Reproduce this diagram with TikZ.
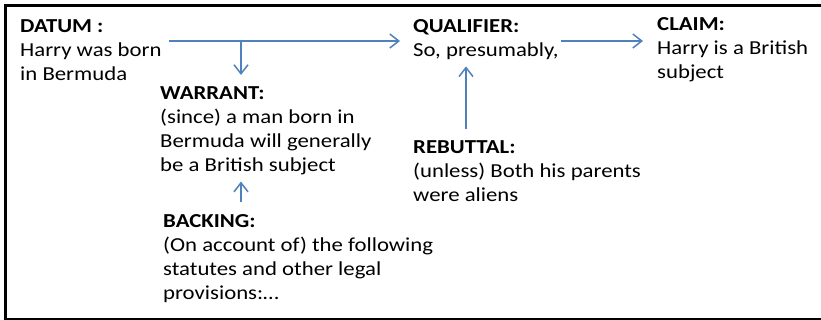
\documentclass[tikz,border=0pt]{standalone}
\usepackage{fontspec}
\setmainfont{Carlito}[FakeStretch=1.15]
\usetikzlibrary{arrows.meta}
\definecolor{arrowblue}{RGB}{79,129,189}
\begin{document}
\begin{tikzpicture}[x=1pt,y=-1pt,
  txt/.style={anchor=base west, inner sep=0pt, align=left, font=\fontsize{19.8}{24}\selectfont},
  frame/.style={line width=2.6pt, line cap=rect},
  arr/.style={draw=arrowblue, line width=1.5pt, -{Straight Barb[length=9pt,width=14pt,line width=1.5pt]}}]
\fill[white] (0,0) rectangle (821,320);
\useasboundingbox (0,0) rectangle (821,320);
\clip (0,0) rectangle (821,320);
\draw[frame] (5.5,5.5) -- (821,5.5);
\draw[frame] (5.5,5.5) -- (5.5,319);
\draw[frame] (5.5,319) -- (821,319);
\node[txt] (datum) at (20,81) {\textbf{DATUM :}\\Harry was born\\in Bermuda};
\node[txt] (warrant) at (160,172) {\textbf{WARRANT:}\\(since) a man born in\\Bermuda will generally\\be a British subject};
\node[txt] (backing) at (163,299) {\textbf{BACKING:}\\(On account of) the following\\statutes and other legal\\provisions:…};
\node[txt] (qualifier) at (413,57) {\textbf{QUALIFIER:}\\So, presumably,};
\node[txt] (claim) at (657,79) {\textbf{CLAIM:}\\Harry is a British\\subject};
\node[txt] (rebuttal) at (413,202) {\textbf{REBUTTAL:}\\(unless) Both his parents\\were aliens};
\coordinate (row) at (0,41);
\coordinate (branch) at (241,41);
\coordinate (rx) at (466,0);
\draw[arr, shorten <=7pt, shorten >=13pt] (datum.east |- row) -- (qualifier.west |- row);
\draw[arr, shorten >=12pt] (branch) -- (branch |- warrant.north);
\draw[arr, shorten <=2pt, shorten >=14pt] (qualifier.east |- row) -- (claim.west |- row);
\draw[arr, shorten <=12pt, shorten >=6pt] (rebuttal.north -| rx) -- (qualifier.south -| rx);
\draw[arr, shorten <=12pt, shorten >=6pt] (backing.north -| branch) -- (warrant.south -| branch);
\end{tikzpicture}
\end{document}
